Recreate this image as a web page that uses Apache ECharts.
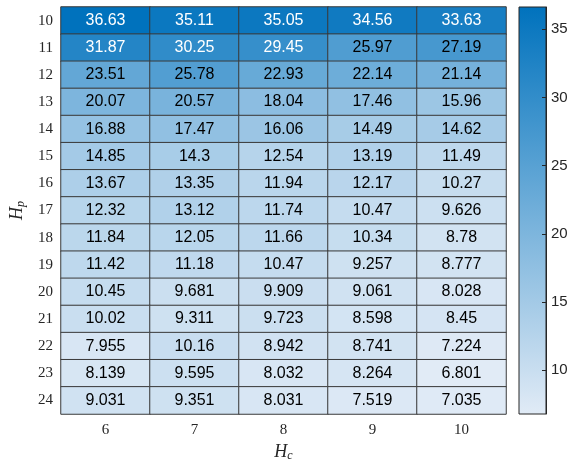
<!DOCTYPE html>
<html>
<head>
<meta charset="utf-8">
<script src="https://cdn.jsdelivr.net/npm/echarts@6/dist/echarts.min.js"></script>
<style>
  html, body { margin: 0; padding: 0; background: #ffffff; }
  #chart { width: 568px; height: 464px; }
</style>
</head>
<body>
<div id="chart"></div>
<script>
// Control horizon H_c (columns) and prediction horizon H_p (rows)
const hcLabels = ['6', '7', '8', '9', '10'];
const hpLabels = ['10', '11', '12', '13', '14', '15', '16', '17', '18', '19', '20', '21', '22', '23', '24'];

// One array per H_p row, values ordered by H_c
const row10 = [36.63, 35.11, 35.05, 34.56, 33.63];
const row11 = [31.87, 30.25, 29.45, 25.97, 27.19];
const row12 = [23.51, 25.78, 22.93, 22.14, 21.14];
const row13 = [20.07, 20.57, 18.04, 17.46, 15.96];
const row14 = [16.88, 17.47, 16.06, 14.49, 14.62];
const row15 = [14.85, 14.3, 12.54, 13.19, 11.49];
const row16 = [13.67, 13.35, 11.94, 12.17, 10.27];
const row17 = [12.32, 13.12, 11.74, 10.47, 9.626];
const row18 = [11.84, 12.05, 11.66, 10.34, 8.78];
const row19 = [11.42, 11.18, 10.47, 9.257, 8.777];
const row20 = [10.45, 9.681, 9.909, 9.061, 8.028];
const row21 = [10.02, 9.311, 9.723, 8.598, 8.45];
const row22 = [7.955, 10.16, 8.942, 8.741, 7.224];
const row23 = [8.139, 9.595, 8.032, 8.264, 6.801];
const row24 = [9.031, 9.351, 8.031, 7.519, 7.035];
const rows = [row10, row11, row12, row13, row14, row15, row16, row17, row18, row19, row20, row21, row22, row23, row24];

// Colorbar tick labels
const colorbarTicks = [10, 15, 20, 25, 30, 35];

const colorLow = '#e1ebf6';
const colorHigh = '#0072bd';

const allValues = rows.flat();
const vMin = Math.min(...allValues);
const vMax = Math.max(...allValues);

const cells = [];
rows.forEach((row, r) => {
  row.forEach((v, c) => {
    cells.push({
      value: [c, r, v],
      label: { color: v > 28 ? '#ffffff' : '#000000' }
    });
  });
});

const serif = '"Liberation Serif", "DejaVu Serif", serif';
const sans = '"Liberation Sans", Arial, sans-serif';

const chart = echarts.init(document.getElementById('chart'), null, { renderer: 'canvas' });

const hmLeft = 61, hmTop = 7, hmWidth = 445, hmHeight = 407;
const cbLeft = 519, cbWidth = 27;

chart.setOption({
  animation: false,
  backgroundColor: '#ffffff',
  grid: [
    { left: hmLeft, top: hmTop, width: hmWidth, height: hmHeight, containLabel: false, outerBoundsMode: 'none' },
    { left: cbLeft, top: hmTop, width: cbWidth, height: hmHeight, containLabel: false, outerBoundsMode: 'none' }
  ],
  xAxis: [
    {
      type: 'category',
      gridIndex: 0,
      data: hcLabels,
      position: 'bottom',
      axisLine: { show: false },
      axisTick: { show: false },
      splitLine: { show: false },
      axisLabel: { fontFamily: serif, fontSize: 15, color: '#262626', margin: 9 },
      name: '{h|H}{s|c}',
      nameLocation: 'middle',
      nameGap: 28,
      nameTextStyle: {
        rich: {
          h: { fontFamily: serif, fontStyle: 'italic', fontSize: 18, color: '#262626', lineHeight: 20, verticalAlign: 'middle' },
          s: { fontFamily: serif, fontStyle: 'italic', fontSize: 12, color: '#262626', lineHeight: 20, verticalAlign: 'bottom' }
        }
      }
    },
    {
      type: 'value',
      gridIndex: 1,
      show: false,
      min: 0,
      max: 1
    }
  ],
  yAxis: [
    {
      type: 'category',
      gridIndex: 0,
      data: hpLabels,
      inverse: true,
      axisLine: { show: false },
      axisTick: { show: false },
      splitLine: { show: false },
      axisLabel: { fontFamily: serif, fontSize: 15, color: '#262626', margin: 8 },
      name: '{h|H}{s|p}',
      nameLocation: 'middle',
      nameGap: 31,
      nameRotate: 90,
      nameTextStyle: {
        rich: {
          h: { fontFamily: serif, fontStyle: 'italic', fontSize: 18, color: '#262626', lineHeight: 20, verticalAlign: 'middle' },
          s: { fontFamily: serif, fontStyle: 'italic', fontSize: 12, color: '#262626', lineHeight: 20, verticalAlign: 'bottom' }
        }
      }
    },
    {
      // Colorbar scale
      type: 'value',
      gridIndex: 1,
      position: 'right',
      min: vMin,
      max: vMax,
      z: 10,
      axisLine: { show: true, onZero: false, lineStyle: { color: '#262626', width: 1 } },
      axisTick: { show: true, inside: true, length: 4, lineStyle: { color: '#262626' }, customValues: colorbarTicks },
      axisLabel: { show: true, fontFamily: sans, fontSize: 15, color: '#262626', margin: 5, customValues: colorbarTicks },
      splitLine: { show: false }
    }
  ],
  visualMap: {
    show: false,
    type: 'continuous',
    min: vMin,
    max: vMax,
    dimension: 2,
    seriesIndex: 0,
    inRange: { color: [colorLow, colorHigh] }
  },
  graphic: [
    {
      // Colorbar gradient strip
      type: 'rect',
      z: -10,
      silent: true,
      shape: { x: cbLeft, y: hmTop, width: cbWidth, height: hmHeight },
      style: {
        fill: new echarts.graphic.LinearGradient(0, 0, 0, 1, [
          { offset: 0, color: colorHigh },
          { offset: 1, color: colorLow }
        ]),
        stroke: '#262626',
        lineWidth: 1
      }
    }
  ],
  series: [
    {
      type: 'heatmap',
      xAxisIndex: 0,
      yAxisIndex: 0,
      data: cells,
      itemStyle: { borderColor: '#3a3a3a', borderWidth: 1 },
      label: {
        show: true,
        fontFamily: sans,
        fontSize: 16,
        formatter: p => String(p.value[2])
      },
      emphasis: { disabled: true }
    }
  ]
});
</script>
</body>
</html>
